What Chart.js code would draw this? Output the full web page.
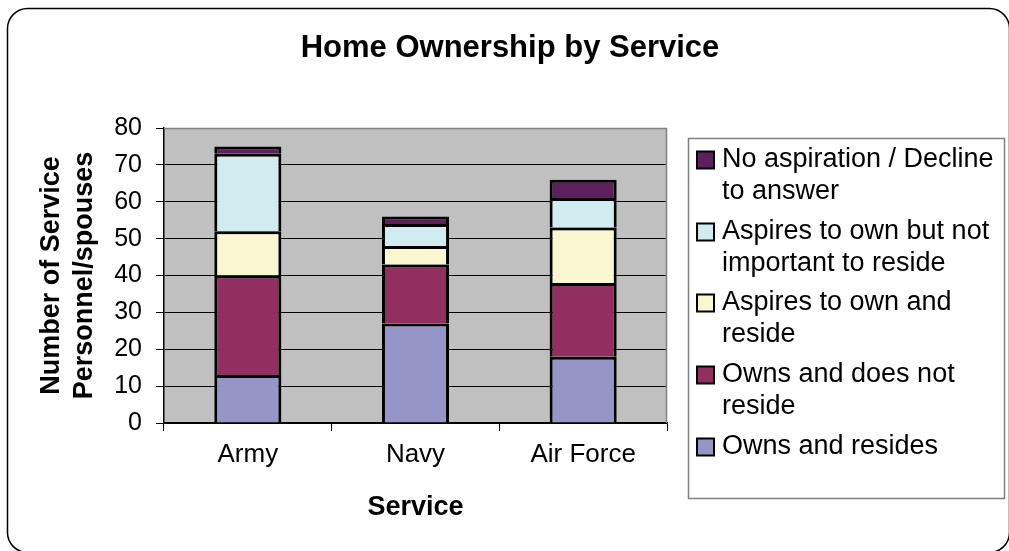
<!DOCTYPE html>
<html>
<head>
<meta charset="utf-8">
<script src="https://cdn.jsdelivr.net/npm/chart.js@4/dist/chart.umd.min.js"></script>
<style>
  html, body { margin: 0; padding: 0; background: #fff; }
  canvas { display: block; }
</style>
</head>
<body>
<canvas id="homeChart" width="1009" height="551"></canvas>
<script>
// categories and series
const services = ['Army', 'Navy', 'Air Force'];
const ownsResides = [13, 27, 18];
const ownsNotReside = [27, 16, 20];
const aspiresReside = [12, 5, 15];
const aspiresNotReside = [21, 6, 8];
const noAspiration = [2, 2, 5];

// legend labels, already broken into lines as in the original
const seriesNames = [
    ['Owns and resides'],
    ['Owns and does not', 'reside'],
    ['Aspires to own and', 'reside'],
    ['Aspires to own but not', 'important to reside'],
    ['No aspiration / Decline', 'to answer']
];
const seriesColors = ['#9595C8', '#913060', '#FAF7D0', '#D0ECF0', '#5E1F5E'];
const yTicks = [0, 10, 20, 30, 40, 50, 60, 70, 80];

const FONT = 'Arial, "Liberation Sans", sans-serif';
const seriesData = [ownsResides, ownsNotReside, aspiresReside, aspiresNotReside, noAspiration];

// 背景、外框、標題與圖例
const framePlugin = {
    id: 'frame',
    beforeDraw(chart) {
        const c = chart.ctx;
        const a = chart.chartArea;
        c.save();
        c.fillStyle = '#C0C0C0';
        c.fillRect(a.left, a.top, a.right - a.left, a.bottom - a.top);
        c.restore();
    },
    afterDatasetsDraw(chart) {
        const c = chart.ctx;
        const a = chart.chartArea;
        c.save();
        c.strokeStyle = '#808080';
        c.lineWidth = 1.5;
        c.beginPath();
        c.moveTo(a.left, a.top + 0.5);
        c.lineTo(a.right - 0.5, a.top + 0.5);
        c.lineTo(a.right - 0.5, a.bottom);
        c.stroke();
        c.restore();
    },
    afterDraw(chart) {
        const c = chart.ctx;
        c.save();
        // rounded outer frame
        c.strokeStyle = '#000';
        c.lineWidth = 1.5;
        c.beginPath();
        c.roundRect(7.5, 8.5, 1002, 544, 20);
        c.stroke();

        // title
        c.fillStyle = '#000';
        c.font = 'bold 31px ' + FONT;
        c.textAlign = 'center';
        c.textBaseline = 'middle';
        c.fillText('Home Ownership by Service', 510, 48);

        // legend box
        c.strokeStyle = '#808080';
        c.lineWidth = 1.5;
        c.strokeRect(688.5, 138.5, 316, 360);

        c.font = '27px ' + FONT;
        c.textAlign = 'left';
        const firstLines = [160, 232, 303, 375, 447];
        for (let i = 0; i < seriesNames.length; i++) {
            const idx = seriesNames.length - 1 - i;
            const y = firstLines[i];
            c.fillStyle = seriesColors[idx];
            c.fillRect(697, y - 8.5, 17, 17);
            c.strokeStyle = '#000';
            c.lineWidth = 2;
            c.strokeRect(697, y - 8.5, 17, 17);
            c.fillStyle = '#000';
            seriesNames[idx].forEach((line, k) => {
                c.fillText(line, 722, y + k * 32);
            });
        }
        c.restore();
    }
};

const datasets = seriesData.map((vals, i) => ({
    label: seriesNames[i].join(' '),
    data: vals,
    backgroundColor: seriesColors[i],
    borderColor: '#000',
    borderWidth: 3,
    barPercentage: 0.4,
    categoryPercentage: 1.0
}));

const ctx = document.getElementById('homeChart').getContext('2d');
new Chart(ctx, {
    type: 'bar',
    data: { labels: services, datasets: datasets },
    options: {
        responsive: false,
        devicePixelRatio: 1,
        animation: false,
        layout: { padding: { top: 128, right: 342, bottom: 0, left: 0 } },
        plugins: {
            legend: { display: false },
            title: { display: false },
            tooltip: { enabled: false }
        },
        scales: {
            x: {
                stacked: true,
                offset: true,
                grid: {
                    offset: true,
                    drawOnChartArea: false,
                    tickLength: 8,
                    color: '#000'
                },
                border: { color: '#000', width: 1.5 },
                ticks: {
                    color: '#000',
                    padding: 8,
                    font: { family: FONT, size: 26 }
                },
                title: {
                    display: true,
                    text: 'Service',
                    color: '#000',
                    font: { family: FONT, size: 27, weight: 'bold' },
                    padding: { top: 0, bottom: 27 }
                },
                afterFit(scale) { scale.height = 128; }
            },
            y: {
                stacked: true,
                min: 0,
                max: 80,
                afterBuildTicks(scale) { scale.ticks = yTicks.map(v => ({ value: v })); },
                grid: {
                    color: (c) => (c.tick && c.tick.value === 80 ? '#808080' : '#000'),
                    lineWidth: 1,
                    tickLength: 8,
                    tickColor: '#000'
                },
                border: { color: '#000', width: 1.5 },
                ticks: {
                    color: '#000',
                    padding: 14,
                    font: { family: FONT, size: 25 }
                },
                title: {
                    display: true,
                    text: ['Number of Service', 'Personnel/spouses'],
                    color: '#000',
                    font: { family: FONT, size: 27, weight: 'bold', lineHeight: 1.22 },
                    padding: { top: 35, bottom: 0 }
                },
                afterFit(scale) { scale.width = 164; }
            }
        }
    },
    plugins: [framePlugin]
});
</script>
</body>
</html>
